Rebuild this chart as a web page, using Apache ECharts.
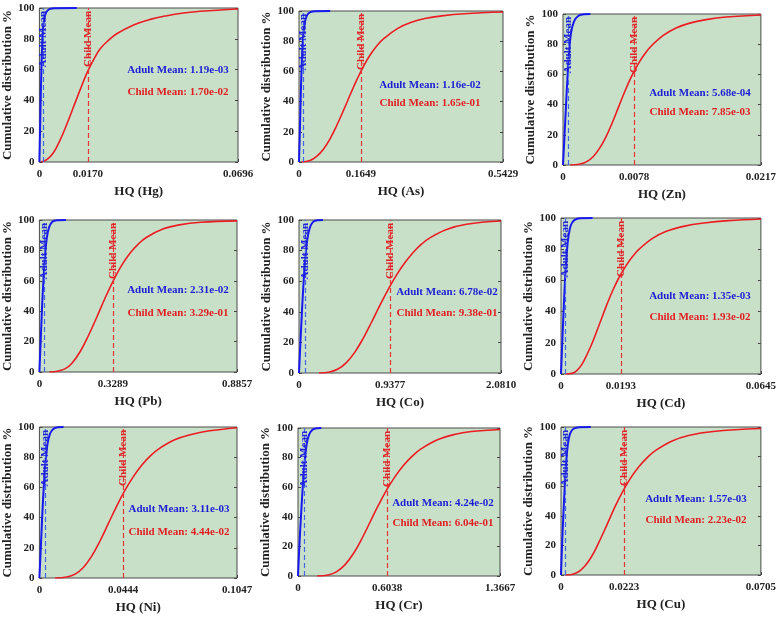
<!DOCTYPE html>
<html>
<head>
<meta charset="utf-8">
<script src="https://cdn.jsdelivr.net/npm/echarts@6/dist/echarts.min.js"></script>
<style>
html, body { margin: 0; padding: 0; background: #fff; }
#main { width: 779px; height: 617px; }
</style>
</head>
<body>
<div id="main"></div>
<script>
// 9个元素的累积分布图 (Adult 蓝 / Child 红)
var elements = ['Hg', 'As', 'Zn', 'Pb', 'Co', 'Cd', 'Ni', 'Cr', 'Cu'];
var xTickLabels = [
    ['0', '0.0170', '0.0696'],
    ['0', '0.1649', '0.5429'],
    ['0', '0.0078', '0.0217'],
    ['0', '0.3289', '0.8857'],
    ['0', '0.9377', '2.0810'],
    ['0', '0.0193', '0.0645'],
    ['0', '0.0444', '0.1047'],
    ['0', '0.6038', '1.3667'],
    ['0', '0.0223', '0.0705']
];
var adultMeanText = ['1.19e-03', '1.16e-02', '5.68e-04', '2.31e-02', '6.78e-02', '1.35e-03', '3.11e-03', '4.24e-02', '1.57e-03'];
var childMeanText = ['1.70e-02', '1.65e-01', '7.85e-03', '3.29e-01', '9.38e-01', '1.93e-02', '4.44e-02', '6.04e-01', '2.23e-02'];

// [HQ, 累积%]
var childHg = [[0.0005,0],[0.0026,1.5],[0.0049,6],[0.0072,14],[0.0096,24.5],[0.0119,35.5],[0.0143,47],[0.0166,57.5],[0.019,66.5],[0.0213,73.5],[0.0242,79],[0.0271,83.3],[0.033,89],[0.0388,92.6],[0.0447,95],[0.0505,96.7],[0.0564,97.9],[0.0696,99.4]];
var adultHg = [[0,0],[0.00023,20],[0.00047,42],[0.0007,60],[0.00095,75],[0.0014,89],[0.0022,96.5],[0.0035,99.2],[0.0055,99.9],[0.0131,100]];
var childAs = [[0.007,0],[0.029,1],[0.047,3.8],[0.065,8.5],[0.083,15.5],[0.101,24.5],[0.119,34.5],[0.137,45],[0.155,55],[0.173,64],[0.191,71.5],[0.209,77.5],[0.227,82],[0.263,88.5],[0.299,92.5],[0.335,95],[0.38,96.8],[0.44,98.2],[0.5429,99.3]];
var adultAs = [[0,0],[0.0025,22],[0.0048,45],[0.0072,64],[0.0100,79],[0.0140,90],[0.0205,96.8],[0.030,99.2],[0.045,99.9],[0.083,100]];
var childZn = [[0.0008,0],[0.0019,0.7],[0.0026,2.2],[0.0033,5.5],[0.004,11],[0.0047,18.5],[0.0054,28],[0.0061,38.5],[0.0068,49],[0.0075,58.5],[0.0082,66.5],[0.0089,73],[0.0096,78.3],[0.011,85.8],[0.0124,90.7],[0.0138,93.8],[0.0157,96.3],[0.0179,98],[0.0217,99.3]];
var adultZn = [[0,0],[0.00018,21],[0.00036,43],[0.00051,60],[0.00066,74],[0.00087,87],[0.0012,95],[0.0017,98.8],[0.0023,99.9],[0.003,100]];
var childPb = [[0.045,0],[0.086,0.7],[0.116,2.2],[0.146,5.8],[0.183,13.5],[0.22,24],[0.257,36],[0.294,48.5],[0.331,60],[0.368,70],[0.405,78],[0.442,84],[0.479,88.5],[0.553,94],[0.627,96.8],[0.724,98.5],[0.8857,99.4]];
var adultPb = [[0,0],[0.006,21],[0.012,43],[0.018,60],[0.025,76],[0.033,88],[0.044,95.5],[0.058,98.8],[0.078,99.9],[0.119,100]];
var childCo = [[0.206,0],[0.316,0.7],[0.402,2.6],[0.488,6.8],[0.574,13.5],[0.66,22.5],[0.746,33],[0.832,44],[0.918,54.5],[1.004,64],[1.09,72],[1.176,78.8],[1.262,84.2],[1.348,88.3],[1.52,93.8],[1.725,97.2],[2.081,99.3]];
var adultCo = [[0,0],[0.014,19],[0.031,41],[0.048,60],[0.065,75],[0.086,87.5],[0.112,95],[0.145,98.8],[0.19,99.9],[0.247,100]];
var childCd = [[0.0014,0],[0.0035,0.4],[0.0051,2.2],[0.0067,6],[0.0084,12.5],[0.0105,22],[0.0126,33],[0.0147,44],[0.0168,54],[0.0189,62.5],[0.021,69.5],[0.0231,75.3],[0.0252,80],[0.0294,86.8],[0.0336,91.2],[0.0399,94.8],[0.0462,96.8],[0.054,98.3],[0.0645,99.4]];
var adultCd = [[0,0],[0.0004,19.7],[0.00085,41],[0.0013,60],[0.0018,76],[0.0024,88],[0.0032,95.5],[0.0044,98.8],[0.0062,99.9],[0.0102,100]];
var childNi = [[0.0084,0],[0.0145,0.7],[0.0189,2.6],[0.0233,7],[0.0277,14.5],[0.0321,24.5],[0.0365,36],[0.0409,47.5],[0.0453,58],[0.0497,67],[0.0541,74.5],[0.0585,80.5],[0.0629,85.2],[0.0717,91.5],[0.0805,95],[0.0893,97.3],[0.1047,99.5]];
var adultNi = [[0,0],[0.0007,18.7],[0.0014,38.5],[0.0023,60],[0.0031,75],[0.0042,88],[0.0056,95.5],[0.0075,98.8],[0.0098,99.9],[0.0128,100]];
var childCr = [[0.129,0],[0.204,0.7],[0.26,2.8],[0.317,7.5],[0.374,15],[0.431,25],[0.488,36.5],[0.545,48],[0.602,58.5],[0.659,67.5],[0.716,75],[0.773,81],[0.83,85.7],[0.944,92],[1.058,95.6],[1.172,97.6],[1.3667,99]];
var adultCr = [[0,0],[0.009,19.9],[0.02,40],[0.032,60],[0.043,75],[0.057,88],[0.075,95.5],[0.098,98.8],[0.128,99.9],[0.158,100]];
var childCu = [[0.0015,0],[0.0038,0.4],[0.0062,2.2],[0.0085,6.2],[0.0108,12.5],[0.0131,21],[0.016,33],[0.0189,45.5],[0.0218,56.5],[0.0247,66],[0.0276,73.5],[0.0305,79.5],[0.0334,84.2],[0.0392,90.6],[0.045,94.3],[0.0537,97],[0.0705,99]];
var adultCu = [[0,0],[0.00035,19],[0.0008,39],[0.0013,59],[0.0018,75],[0.0024,88],[0.0032,95.5],[0.0044,98.8],[0.0065,99.9],[0.0105,100]];

var childCurves = [childHg, childAs, childZn, childPb, childCo, childCd, childNi, childCr, childCu];
var adultCurves = [adultHg, adultAs, adultZn, adultPb, adultCo, adultCd, adultNi, adultCr, adultCu];

// 布局 (像素) : [left, top, width, height]
var gridBox = [
    [39, 8, 199, 154], [299, 11, 204, 151], [563, 14, 199, 151],
    [39, 220, 198, 152], [299, 220, 202, 153], [561, 218, 200, 156],
    [37, 427, 200, 151], [298, 428, 202, 148], [561, 427, 200, 148]
];
// 注释文字中心: [x, adultY, childY]
var notePos = [
    [178, 70, 92], [430, 85, 103], [700, 93, 112],
    [178, 290, 313], [447, 292, 313], [700, 296, 317],
    [179, 509, 532], [443, 503, 523], [696, 499, 520]
];

var FONT = '"Liberation Serif", "Times New Roman", serif';
var RED = '#ec1c24';
var BLUE = '#1818f0';

var chart = echarts.init(document.getElementById('main'));

var grids = [], xAxes = [], yAxes = [], series = [], graphics = [];

elements.forEach(function (el, i) {
    var b = gridBox[i];
    var ticks = xTickLabels[i].map(parseFloat);
    var labels = xTickLabels[i];
    grids.push({
        left: b[0], top: b[1], width: b[2], height: b[3],
        show: true, backgroundColor: '#c8e0c8',
        borderColor: '#4a4a4a', borderWidth: 1
    });
    xAxes.push({
        type: 'value', gridIndex: i, min: 0, max: ticks[2],
        name: 'HQ (' + el + ')', nameLocation: 'middle', nameGap: 23,
        nameTextStyle: { fontFamily: FONT, fontWeight: 'bold', fontSize: 13, color: '#222' },
        axisLine: { show: false },
        axisTick: { show: true, inside: true, length: 3, customValues: ticks, lineStyle: { color: '#444' } },
        axisLabel: {
            customValues: ticks, margin: 7,
            fontFamily: FONT, fontWeight: 'bold', fontSize: 11, color: '#222',
            formatter: function (v) {
                var best = 0;
                for (var k = 0; k < ticks.length; k++) {
                    if (Math.abs(ticks[k] - v) < Math.abs(ticks[best] - v)) best = k;
                }
                return labels[best];
            }
        },
        splitLine: { show: false }
    });
    yAxes.push({
        type: 'value', gridIndex: i, min: 0, max: 100, interval: 20,
        name: 'Cumulative distribution %', nameLocation: 'middle', nameGap: 22,
        nameTextStyle: { fontFamily: FONT, fontWeight: 'bold', fontSize: 13, color: '#222' },
        axisLine: { show: false },
        axisTick: { show: true, inside: true, length: 3, lineStyle: { color: '#444' } },
        axisLabel: { margin: 5, fontFamily: FONT, fontWeight: 'bold', fontSize: 11, color: '#222' },
        splitLine: { show: false }
    });
    yAxes.push({
        type: 'value', gridIndex: i, min: 0, max: 100, interval: 20, position: 'right',
        axisLine: { show: false },
        axisTick: { show: true, inside: true, length: 3, lineStyle: { color: '#444' } },
        axisLabel: { show: false },
        splitLine: { show: false }
    });

    var childMean = ticks[1];
    var adultMean = parseFloat(adultMeanText[i]);

    series.push({
        type: 'line', xAxisIndex: i, yAxisIndex: 2 * i,
        data: childCurves[i], showSymbol: false, smooth: 0.4,
        lineStyle: { color: RED, width: 1.6 }, z: 3,
        markLine: {
            silent: true, symbol: 'none',
            lineStyle: { color: '#e83535', type: [5, 3], width: 1.2, opacity: 1 },
            label: {
                show: true, position: 'insideEnd', distance: 3, formatter: 'Child Mean',
                color: '#e0262a', fontFamily: FONT, fontWeight: 'bold', fontSize: 11
            },
            data: [[{ coord: [childMean, 0] }, { coord: [childMean, 100] }]]
        }
    });
    series.push({
        type: 'line', xAxisIndex: i, yAxisIndex: 2 * i,
        data: adultCurves[i], showSymbol: false, smooth: 0.4,
        lineStyle: { color: BLUE, width: 2 }, z: 4,
        markLine: {
            silent: true, symbol: 'none',
            lineStyle: { color: '#4466e8', type: [5, 3], width: 1.2, opacity: 1 },
            label: {
                show: true, position: 'insideEnd', distance: 3, formatter: 'Adult Mean',
                color: '#2323d8', fontFamily: FONT, fontWeight: 'bold', fontSize: 11
            },
            data: [[{ coord: [adultMean, 0] }, { coord: [adultMean, 100] }]]
        }
    });

    var p = notePos[i];
    graphics.push({
        type: 'text', x: p[0], y: p[1], z: 100,
        style: {
            text: 'Adult Mean: ' + adultMeanText[i], textAlign: 'center', textVerticalAlign: 'middle',
            fill: '#1c1cd6', fontFamily: FONT, fontWeight: 'bold', fontSize: 11
        }
    });
    graphics.push({
        type: 'text', x: p[0], y: p[2], z: 100,
        style: {
            text: 'Child Mean: ' + childMeanText[i], textAlign: 'center', textVerticalAlign: 'middle',
            fill: '#e21d22', fontFamily: FONT, fontWeight: 'bold', fontSize: 11
        }
    });
});

chart.setOption({
    animation: false,
    grid: grids,
    xAxis: xAxes,
    yAxis: yAxes,
    series: series,
    graphic: graphics
});
</script>
</body>
</html>
